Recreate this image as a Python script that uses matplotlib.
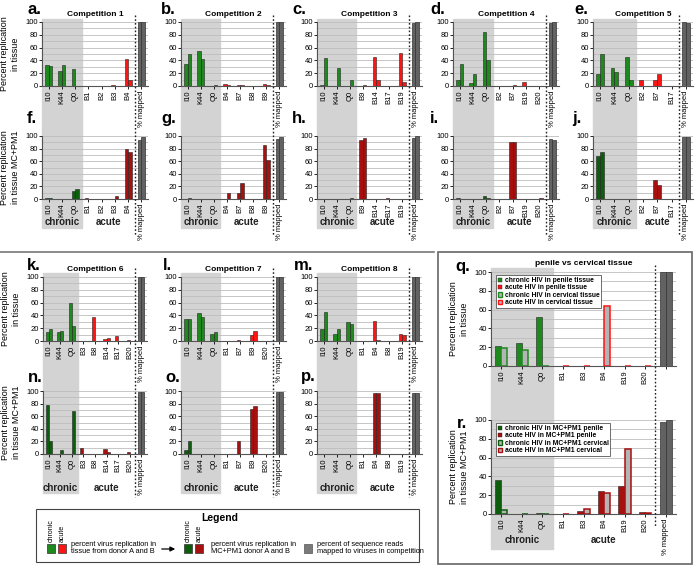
import numpy as np
import matplotlib
matplotlib.use("Agg")
import matplotlib.pyplot as plt
from matplotlib.patches import Rectangle, FancyArrowPatch
from matplotlib.lines import Line2D

plt.rcParams['font.family'] = ['Liberation Sans', 'DejaVu Sans']

# ---- data (donor A, donor B) ----
chronic = ["I10", "K44", "Q0"]

comp1_acute = ["B1", "B2", "B3", "B4"]
comp1_tissue = [(33, 32), (24, 33), (26, 0), (0, 0), (0, 0), (1, 0), (42, 10)]
comp1_mc = [(1, 1), (0, 0), (12, 16), (1, 0), (0.5, 0), (0, 5), (79, 74)]
comp1_mapped = [(100, 100), (94, 99)]

comp2_acute = ["B4", "B7", "B8", "B9"]
comp2_tissue = [(35, 50), (55, 42), (0, 2), (3, 1), (2, 1), (0, 0), (3, 1)]
comp2_mc = [(0, 2), (0, 0), (0, 0), (0, 9), (9, 25), (0, 0), (85, 62)]
comp2_mapped = [(100, 100), (95, 99)]

comp3_acute = ["B9", "B14", "B17", "B19"]
comp3_tissue = [(1, 44), (0, 28), (0, 10), (0, 2), (45, 9), (0, 0), (51, 6)]
comp3_mc = [(0, 0), (0, 0), (0, 1), (93, 97), (0, 0), (1, 0), (0, 0)]
comp3_mapped = [(98, 100), (97, 100)]

comp4_acute = ["B2", "B7", "B19", "B20"]
comp4_tissue = [(9, 34), (4, 18), (85, 40), (0, 0), (0, 1), (7, 0), (0, 0)]
comp4_mc = [(1, 0), (0, 0), (4, 2), (0, 0), (91, 90), (0, 0), (0, 1)]
comp4_mapped = [(98, 100), (96, 94)]

comp5_acute = ["B2", "B7", "B17"]
comp5_tissue = [(19, 50), (28, 22), (45, 9), (9, 0), (9, 18), (0, 0)]
comp5_mc = [(69, 75), (0, 0), (0, 0), (0, 0), (30, 23), (0, 0)]
comp5_mapped = [(100, 98), (99, 99)]

comp6_acute = ["B3", "B8", "B14", "B17", "B20"]
comp6_tissue = [(14, 18), (14, 15), (60, 23), (0, 0), (38, 0), (3, 4), (8, 0), (1, 0)]
comp6_mc = [(77, 20), (0, 7), (0, 69), (10, 0), (0, 0), (8, 3), (0, 0), (3, 0)]
comp6_mapped = [(100, 100), (98, 98)]

comp7_acute = ["B1", "B7", "B9", "B20"]
comp7_tissue = [(34, 34), (44, 38), (11, 14), (0, 0), (1, 0), (10, 15), (0, 0)]
comp7_mc = [(6, 21), (0, 0), (0, 0), (0, 0), (20, 0), (72, 76), (0, 0)]
comp7_mapped = [(100, 100), (98, 98)]

comp8_acute = ["B1", "B4", "B8", "B19"]
comp8_tissue = [(18, 46), (11, 18), (30, 26), (0, 0), (32, 1), (0, 0), (11, 9)]
comp8_mc = [(0, 0), (0, 0), (0, 0), (0, 0), (97, 97), (0, 0), (0, 0)]
comp8_mapped = [(100, 100), (97, 97)]

# penile vs cervical (penile, cervical)
pc_acute = ["B1", "B3", "B4", "B19", "B20"]
pc_tissue = [(21, 19), (25, 17), (52, 0), (0, 0), (0, 0), (0, 64), (0, 0), (0, 0)]
pc_mc = [(36, 4), (0, 0), (1, 0), (0.5, 0), (3, 5), (25, 22), (30, 69), (2, 1)]
pc_mapped = [(100, 100), (98, 100)]

TG, TR = '#1e8a1e', '#ff1414'
MG, MR = '#0c5e0c', '#a80f0f'
GRAYBAR = '#626262'
SHADE = '#d3d3d3'

W, H = 696, 566
fig = plt.figure(figsize=(W / 100, H / 100), dpi=100)


def fx(x):
    return x / W


def fy(y):
    return 1 - y / H


def make_ax(x0, x1, y0, y1):
    ax = fig.add_axes([fx(x0), fy(y1), fx(x1 - x0), (y1 - y0) / H])
    ax.set_facecolor('none')
    return ax


def draw_panel(ax, cats, vals, mapped, green, red, w=0.27, outlined=False,
               mapped_label='% mapped', ylabel=None):
    n = len(cats)
    x = np.arange(n)
    a = [v[0] for v in vals]
    b = [v[1] for v in vals]
    cols = [green] * 3 + [red] * (n - 3)
    ax.bar(x - w / 2, a, w, color=cols, edgecolor='#222222', lw=0.4, zorder=3)
    if outlined:
        ax.bar(x + w / 2, b, w, color='#b4b4b4', edgecolor=cols, lw=1.1, zorder=3)
    else:
        ax.bar(x + w / 2, b, w, color=cols, edgecolor='#222222', lw=0.4, zorder=3)
    ax.bar([n - w / 2, n + w / 2], mapped, w, color=GRAYBAR, edgecolor='#333333',
           lw=0.5, zorder=3)
    ax.set_xlim(-0.5, n + 0.5)
    ax.set_ylim(0, 100)
    ax.set_xticks(list(x) + [n])
    ax.set_xticklabels(cats + [mapped_label], rotation=90, fontsize=5.5)
    ax.set_yticks(range(0, 101, 20))
    ax.set_yticks(range(0, 101, 10), minor=True)
    ax.tick_params(axis='y', labelsize=5.5, length=2, pad=1, width=0.6)
    ax.tick_params(axis='y', which='minor', length=0)
    ax.tick_params(axis='x', length=2, pad=1.5, width=0.6)
    ax.grid(axis='y', which='both', color='#bdbdbd', lw=0.6, zorder=0)
    for s in ['top', 'right']:
        ax.spines[s].set_visible(False)
    for s in ['left', 'bottom']:
        ax.spines[s].set_color('#555555')
        ax.spines[s].set_linewidth(0.8)
    if ylabel:
        ax.set_ylabel(ylabel, fontsize=6.5, labelpad=4)


def column(x0, x1, n, g_y, d_y, lab_y, fs=7):
    unit = (x1 - x0) / (n + 1)
    fig.patches.append(Rectangle((fx(x0), fy(g_y[1])), fx(3 * unit),
                                 (g_y[1] - g_y[0]) / H, transform=fig.transFigure,
                                 color=SHADE, zorder=-5))
    xd = x0 + n * unit
    fig.add_artist(Line2D([fx(xd), fx(xd)], [fy(d_y[0]), fy(d_y[1])],
                          transform=fig.transFigure, ls=(0, (1.2, 1.5)),
                          color='#222222', lw=1.0))
    fig.text(fx(x0 + 1.5 * unit), fy(lab_y), 'chronic', fontsize=fs,
             fontweight='bold', ha='center', va='center', color='#222222')
    fig.text(fx(x0 + (3 + (n - 3) / 2) * unit), fy(lab_y), 'acute', fontsize=fs,
             fontweight='bold', ha='center', va='center', color='#222222')


def letter(s, x, y, size=12):
    fig.text(fx(x), fy(y), s, fontsize=size, fontweight='bold', ha='left', va='center')


YL_T = 'Percent replication\nin tissue'
YL_M = 'Percent replication\nin tissue MC+PM1'

# ---- top row ----
row1 = [
    (42, 148, comp1_acute, comp1_tissue, comp1_mc, comp1_mapped, 'a.', 'f.', 27, 27),
    (181, 286, comp2_acute, comp2_tissue, comp2_mc, comp2_mapped, 'b.', 'g.', 161, 161),
    (317, 422, comp3_acute, comp3_tissue, comp3_mc, comp3_mapped, 'c.', 'h.', 292, 292),
    (453, 559, comp4_acute, comp4_tissue, comp4_mc, comp4_mapped, 'd.', 'i.', 430, 430),
    (593, 693, comp5_acute, comp5_tissue, comp5_mc, comp5_mapped, 'e.', 'j.', 574, 572),
]
for i, (x0, x1, ac, tis, mc, mp, l1, l2, lx1, lx2) in enumerate(row1):
    cats = chronic + ac
    ax1 = make_ax(x0, x1, 22, 86)
    draw_panel(ax1, cats, tis, mp[0], TG, TR, ylabel=YL_T if i == 0 else None)
    ax1.set_title('Competition %d' % (i + 1), fontsize=6, fontweight='bold', pad=4)
    ax2 = make_ax(x0, x1, 136, 199)
    draw_panel(ax2, cats, mc, mp[1], MG, MR, ylabel=YL_M if i == 0 else None)
    column(x0, x1, len(cats), (19, 228), (15, 235), 222)
    letter(l1, lx1, 10)
    letter(l2, lx2, 119)

# ---- second row ----
row2 = [
    (43, 147, comp6_acute, comp6_tissue, comp6_mc, comp6_mapped, 'k.', 'n.', 27, 28),
    (181, 286, comp7_acute, comp7_tissue, comp7_mc, comp7_mapped, 'l.', 'o.', 163, 165),
    (317, 422, comp8_acute, comp8_tissue, comp8_mc, comp8_mapped, 'm.', 'p.', 294, 301),
]
for i, (x0, x1, ac, tis, mc, mp, l1, l2, lx1, lx2) in enumerate(row2):
    cats = chronic + ac
    ax1 = make_ax(x0, x1, 277, 341)
    draw_panel(ax1, cats, tis, mp[0], TG, TR, ylabel=YL_T if i == 0 else None)
    ax1.set_title('Competition %d' % (i + 6), fontsize=6, fontweight='bold', pad=4)
    ax2 = make_ax(x0, x1, 391, 454)
    draw_panel(ax2, cats, mc, mp[1], MG, MR, ylabel=YL_M if i == 0 else None)
    column(x0, x1, len(cats), (273, 493), (268, 497), 488)
    letter(l1, lx1, 265)
    letter(l2, lx2, 377)

# ---- penile vs cervical ----
pc_cats = chronic + pc_acute
axq = make_ax(491, 676, 272, 366)
draw_panel(axq, pc_cats, pc_tissue, pc_mapped[0], TG, TR, w=0.3, outlined=True,
           mapped_label='', ylabel=YL_T)
axq.set_title('penile vs cervical tissue', fontsize=6, fontweight='bold', pad=5)
axr = make_ax(491, 676, 420, 514)
draw_panel(axr, pc_cats, pc_mc, pc_mapped[1], MG, MR, w=0.3, outlined=True,
           ylabel=YL_M)
column(491, 676, len(pc_cats), (268, 549), (265, 527), 540)
letter('q.', 455, 266)
letter('r.', 457, 423)

for ax, labs, cg, cr in [(axq, ['chronic HIV in penile tissue', 'acute HIV in penile tissue',
                                'chronic HIV in cervical tissue', 'acute HIV in cervical tissue'], TG, TR),
                         (axr, ['chronic HIV in MC+PM1 penile', 'acute HIV in MC+PM1 penile',
                                'chronic HIV in MC+PM1 cervical', 'acute HIV in MC+PM1 cervical'], MG, MR)]:
    hs = [Rectangle((0, 0), 1, 1, fc=cg, ec='#222222', lw=0.3),
          Rectangle((0, 0), 1, 1, fc=cr, ec='#222222', lw=0.3),
          Rectangle((0, 0), 1, 1, fc='#b4b4b4', ec=cg, lw=1.0),
          Rectangle((0, 0), 1, 1, fc='#b4b4b4', ec=cr, lw=1.0)]
    lg = ax.legend(hs, labs, loc='upper left', bbox_to_anchor=(0.01, 1.0), fontsize=4.9,
                   handlelength=0.6, handleheight=0.6, handletextpad=0.4,
                   labelspacing=0.05, borderpad=0.25, fancybox=False, framealpha=1,
                   edgecolor='#555555')
    lg.get_frame().set_linewidth(0.6)
    for t in lg.get_texts():
        t.set_fontweight('bold')

# ---- frames and separators ----
fig.add_artist(Line2D([0, fx(434)], [fy(252), fy(252)], transform=fig.transFigure,
                      color='#777777', lw=1.2))
fig.patches.append(Rectangle((fx(438), fy(564)), fx(692 - 438), (564 - 252) / H,
                             transform=fig.transFigure, fill=False, ec='#666666', lw=1.2))

# ---- legend box ----
fig.patches.append(Rectangle((fx(36), fy(562)), fx(419 - 36), (562 - 509) / H,
                             transform=fig.transFigure, fill=False, ec='#444444', lw=0.8))
fig.text(fx(220), fy(518), 'Legend', fontsize=7.5, fontweight='bold', ha='center', va='center')


def square(x, c, ec='#333333'):
    fig.patches.append(Rectangle((fx(x), fy(553)), fx(8), 9 / H, transform=fig.transFigure,
                                 fc=c, ec=ec, lw=0.5))


square(47, TG)
square(58, TR)
fig.text(fx(51), fy(531), 'chronic', rotation=90, fontsize=5, ha='center', va='center')
fig.text(fx(62), fy(533), 'acute', rotation=90, fontsize=5, ha='center', va='center')
fig.text(fx(71), fy(548), 'percent virus replication in\ntissue from donor A and B',
         fontsize=5.3, ha='left', va='center', linespacing=1.1)
fig.add_artist(FancyArrowPatch((fx(159), fy(549)), (fx(178), fy(549)),
                               transform=fig.transFigure, arrowstyle='-|>',
                               mutation_scale=7, color='black', lw=0.9))
square(184, MG)
square(195, MR)
fig.text(fx(188), fy(531), 'chronic', rotation=90, fontsize=5, ha='center', va='center')
fig.text(fx(199), fy(533), 'acute', rotation=90, fontsize=5, ha='center', va='center')
fig.text(fx(211), fy(548), 'percent virus replication in\nMC+PM1 donor A and B',
         fontsize=5.3, ha='left', va='center', linespacing=1.1)
square(304, '#7a7a7a', ec='#555555')
fig.text(fx(317), fy(548), 'percent of sequence reads\nmapped to viruses in competition',
         fontsize=5.3, ha='left', va='center', linespacing=1.1)

fig.savefig('out.png', dpi=100)
